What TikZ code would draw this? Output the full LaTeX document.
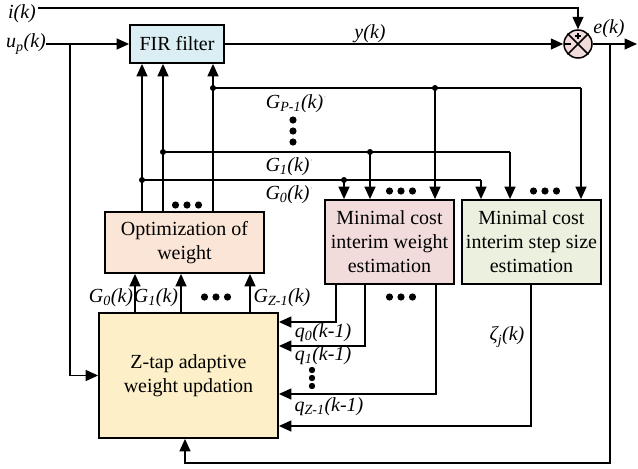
\documentclass[tikz,border=0pt]{standalone}
\usepackage{fontspec}
\setmainfont{Liberation Serif}
\usetikzlibrary{arrows.meta}
\definecolor{firfill}{HTML}{DAEEF3}
\definecolor{optfill}{HTML}{FBE5D6}
\definecolor{wgtfill}{HTML}{F2DCDB}
\definecolor{stepfill}{HTML}{EBF1DE}
\definecolor{ztapfill}{HTML}{FDF0C8}
\definecolor{sumfill}{HTML}{F2DCDB}
\newcommand\pr{\textsuperscript{\fontsize{7}{7}\selectfont\color{gray}'}}
\newcommand\hdotrow[2]{\foreach \d in {-11.5,0,11.5} \fill (#1+\d,#2) circle (3.6pt);}
\begin{document}
\begin{tikzpicture}[x=1pt,y=-1pt,
  font=\fontsize{20}{24}\selectfont,
  wire/.style={line width=1.5pt},
  arr/.style={wire,-{Triangle[length=12.5pt,width=11pt]}},
  block/.style={draw,line width=1.8pt,align=center,inner sep=1pt},
  lbl/.style={font=\fontsize{20}{24}\selectfont\itshape,inner sep=0pt},
  jdot/.style={fill,circle,inner sep=0pt,minimum size=6pt}]
\useasboundingbox (0,0) rectangle (638,469);

% blocks
\node[block,fill=firfill,minimum width=94pt,minimum height=38pt] (fir) at (177,44) {FIR filter};
\node[block,fill=optfill,minimum width=159pt,minimum height=61pt] (opt) at (184.5,242.5) {Optimization of\\weight};
\node[block,fill=ztapfill,minimum width=179pt,minimum height=125pt] (ztap) at (188.5,375.5) {Z-tap adaptive\\weight updation};
\node[block,fill=wgtfill,minimum width=129pt,minimum height=84pt] (wgt) at (389.5,242) {Minimal cost\\interim weight\\estimation};
\node[block,fill=stepfill,minimum width=139pt,minimum height=84pt] (step) at (531.5,242) {Minimal cost\\interim step size\\estimation};
\node[draw,circle,line width=1.5pt,fill=sumfill,minimum size=28pt,inner sep=0pt] (sum) at (578,44) {};
\draw[line width=1.5pt] (sum.north east) -- (sum.south west) (sum.north west) -- (sum.south east);
\draw[line width=1.2pt] (575,36) -- (581,36) (578,33) -- (578,39);
\draw[line width=1.2pt] (565,44) -- (570.5,44);

% signal labels
\node[lbl] (ik) at (22,14) {i(k)};
\node[lbl] (up) at (26,44) {u\textsubscript{p}(k)};
\node[lbl] (yk) at (370,34) {y(k)};
\node[lbl] (ek) at (609,29) {e(k)};
\node[lbl] (gpl) at (296,104) {G\textsubscript{P-1}(k)\pr};
\node[lbl] (g1l) at (289,167) {G\textsubscript{1}(k)\pr};
\node[lbl] (g0l) at (289,195) {G\textsubscript{0}(k)\pr};
\node[lbl] (lg0) at (111,298) {G\textsubscript{0}(k)};
\node[lbl] (lg1) at (156,298) {G\textsubscript{1}(k)};
\node[lbl] (lgz) at (282,298) {G\textsubscript{Z-1}(k)};
\node[lbl] (lq0) at (323,333) {q\textsubscript{0}(k-1)};
\node[lbl] (lq1) at (323,356) {q\textsubscript{1}(k-1)};
\node[lbl] (lqz) at (329,407) {q\textsubscript{Z-1}(k-1)};
\node[lbl] (lzj) at (507,337) {ζ\textsubscript{j}(k)};

% routing points
\coordinate (ist) at (38,8);
\coordinate (ub) at (70,44);
\coordinate (eb) at (610,44);
\coordinate (eout) at (637,44);
\coordinate (fb) at (185,463);
\coordinate (j0) at (142,180);
\coordinate (j1) at (163,152);
\coordinate (jp) at (213,88);
\coordinate (a0) at (344,180);
\coordinate (a1) at (370,152);
\coordinate (ap) at (435,88);
\coordinate (b0) at (481,180);
\coordinate (b1) at (510,152);
\coordinate (bp) at (581,88);
\coordinate (g0) at (135,300);
\coordinate (g1) at (181,300);
\coordinate (gz) at (250,300);
\coordinate (q0) at (336,322);
\coordinate (q1) at (365,346);
\coordinate (qz) at (436,394);
\coordinate (zj) at (531,426);

% input, output and error paths
\draw[arr] (ist) -| (sum.north);
\draw[arr] (up.east |- fir.west) -- (fir.west);
\draw[arr] (ub) |- (ztap.west);
\draw[arr] (fir.east) -- (sum.west);
\draw[arr] (sum.east) -- (eout);
\draw[arr] (eb) -- (eb |- fb) -- (fb) -- (ztap.south -| fb);

% weights into the FIR filter
\draw[arr] (opt.north -| j0) -- (fir.south -| j0);
\draw[arr] (opt.north -| j1) -- (fir.south -| j1);
\draw[arr] (opt.north -| jp) -- (fir.south -| jp);

% weight buses to the estimators
\draw[wire] (j0) -- (b0);
\draw[wire] (j1) -- (b1);
\draw[wire] (jp) -- (bp);
\draw[arr] (a0) -- (wgt.north -| a0);
\draw[arr] (a1) -- (wgt.north -| a1);
\draw[arr] (ap) -- (wgt.north -| ap);
\draw[arr] (b0) -- (step.north -| b0);
\draw[arr] (b1) -- (step.north -| b1);
\draw[arr] (bp) -- (step.north -| bp);
\foreach \c in {j0,j1,jp,a0,a1,ap} \node[jdot] at (\c) {};

% tap weights into the optimiser
\draw[arr] (ztap.north -| g0) -- (opt.south -| g0);
\draw[arr] (ztap.north -| g1) -- (opt.south -| g1);
\draw[arr] (ztap.north -| gz) -- (opt.south -| gz);

% estimator feedback into the update block
\draw[arr] (wgt.south -| q0) -- (q0) -- (ztap.east |- q0);
\draw[arr] (wgt.south -| q1) -- (q1) -- (ztap.east |- q1);
\draw[arr] (wgt.south -| qz) -- (qz) -- (ztap.east |- qz);
\draw[arr] (step.south -| zj) -- (zj) -- (ztap.east |- zj);

% ellipses
\hdotrow{187}{205}
\hdotrow{401}{191}
\hdotrow{545}{191}
\hdotrow{401}{297}
\hdotrow{216}{297}
\foreach \y in {120,131,142} \fill (293,\y) circle (3.6pt);
\foreach \y in {370,378,386} \fill (312,\y) circle (3.2pt);
\end{tikzpicture}
\end{document}
